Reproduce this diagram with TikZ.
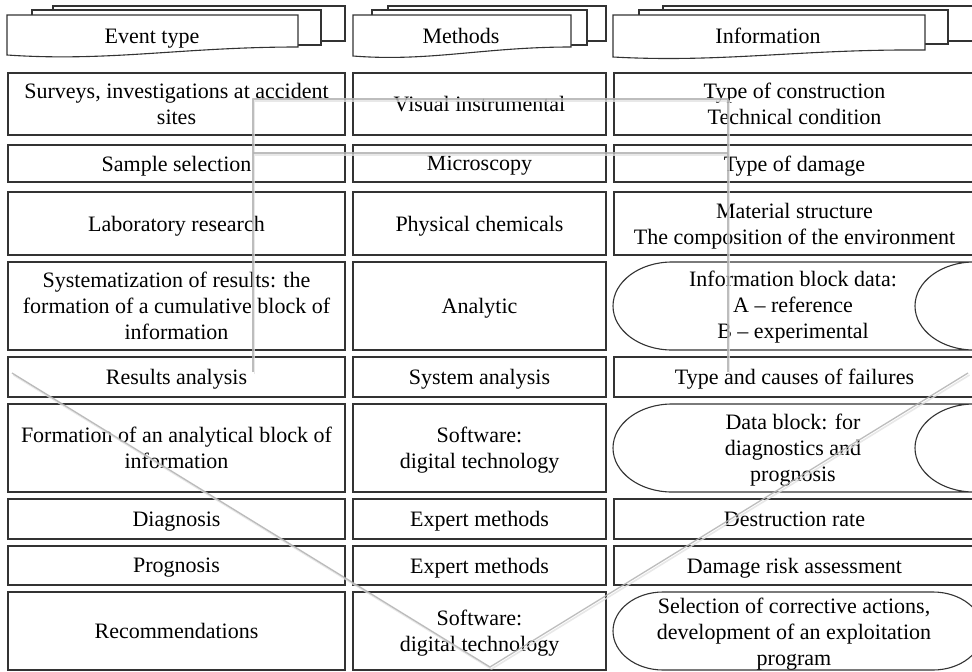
\documentclass[tikz,border=0pt]{standalone}
\usepackage{fontspec}
\setmainfont{Liberation Serif}
\newfontfamily\tnrfont[Ligatures=TeX]{Liberation Serif}
% \bx{name}{width}{x}{y}{height}{text}
\newcommand{\bx}[6]{%
  \node[box,minimum width=#2pt,minimum height=#5pt] (#1) at (#3,#4) {};
  \node[txt] (#1t) at ({#3},{#4+2.5}) {#6};}
\begin{document}
\begin{tikzpicture}[x=1pt,y=-1pt,
  fnt/.style={font=\tnrfont\fontsize{22}{26}\selectfont},
  box/.style={draw=black!80, line width=1.2pt, fill=white, inner sep=0pt},
  txt/.style={align=center, inner sep=0pt, text depth=5pt, fnt},
  shp/.style={draw=black!80, line width=1.1pt, fill=white},
  bgline/.style={gray!60, line width=1.3pt, opacity=0.85, line join=round},
  bgshadow/.style={gray!22, line width=1.6pt, opacity=0.8, line join=round}]
\useasboundingbox (0,0) rectangle (972,672);
\fill[white] (0,0) rectangle (972,672);

% ---- header multidocuments
\draw[shp] (53,6) rectangle (345,41);
\draw[shp] (32,10) rectangle (321,45);
\draw[shp] (7,15) -- (298,15) -- (298,47) .. controls (182,47) and (109,62) .. (7,55) -- cycle;
\node[txt] (h1) at (152,38.5) {Event type};

\draw[shp] (388,6) rectangle (606,41);
\draw[shp] (372,10) rectangle (587,45);
\draw[shp] (353,15) -- (571,15) -- (571,47) .. controls (484,47) and (429,62) .. (353,56) -- cycle;
\node[txt] (h2) at (461,38.5) {Methods};

\draw[shp] (663,6) rectangle (990,41);
\draw[shp] (639,10) rectangle (948,44);
\draw[shp] (613,15) -- (925,15) -- (925,50) .. controls (800,49) and (722,63) .. (613,57) -- cycle;
\node[txt] (h3) at (768,38.5) {Information};

% ---- column 1
\bx{e1}{337}{176.5}{104}{62}{Surveys, investigations at accident\\sites}
\bx{e2}{337}{176.5}{163.5}{37}{Sample selection}
\bx{e3}{337}{176.5}{223.5}{63}{Laboratory research}
\bx{e4}{337}{176.5}{306}{88}{Systematization of results: the\\formation of a cumulative block of\\information}
\bx{e5}{337}{176.5}{377}{40}{Results analysis}
\bx{e6}{337}{176.5}{448}{88}{Formation of an analytical block of\\information}
\bx{e7}{337}{176.5}{519}{40}{Diagnosis}
\bx{e8}{337}{176.5}{565.5}{39}{Prognosis}
\bx{e9}{337}{176.5}{631}{78}{Recommendations}

% ---- column 2
\bx{m1}{253}{479.5}{104}{62}{Visual instrumental}
\bx{m2}{253}{479.5}{163.5}{37}{Microscopy}
\bx{m3}{253}{479.5}{223.5}{63}{Physical chemicals}
\bx{m4}{253}{479.5}{306}{88}{Analytic}
\bx{m5}{253}{479.5}{377}{40}{System analysis}
\bx{m6}{253}{479.5}{448}{88}{Software:\\digital technology}
\bx{m7}{253}{479.5}{519}{40}{Expert methods}
\bx{m8}{253}{479.5}{565.5}{39}{Expert methods}
\bx{m9}{253}{479.5}{631}{78}{Software:\\digital technology}

% ---- column 3
\bx{i1}{361}{794.5}{104}{62}{Type of construction\\Technical condition}
\bx{i2}{361}{794.5}{163.5}{37}{Type of damage}
\bx{i3}{361}{794.5}{223.5}{63}{Material structure\\The composition of the environment}
\draw[shp] (672,262) -- (974,262) .. controls (941.4,262) and (915,281.7) .. (915,306)
  .. controls (915,330.3) and (941.4,350) .. (974,350) -- (672,350)
  .. controls (639.4,350) and (613,330.3) .. (613,306)
  .. controls (613,281.7) and (639.4,262) .. (672,262) -- cycle;
\node[txt] (i4) at (793,307.5) {Information block data:\\A – reference\\B – experimental};
\bx{i5}{361}{794.5}{377}{40}{Type and causes of failures}
\draw[shp] (672,404) -- (974,404) .. controls (941.4,404) and (915,423.7) .. (915,448)
  .. controls (915,472.3) and (941.4,492) .. (974,492) -- (672,492)
  .. controls (639.4,492) and (613,472.3) .. (613,448)
  .. controls (613,423.7) and (639.4,404) .. (672,404) -- cycle;
\node[txt] (i6) at (793,450) {Data block: for\\diagnostics and\\prognosis};
\bx{i7}{361}{794.5}{519}{40}{Destruction rate}
\bx{i8}{361}{794.5}{565.5}{39}{Damage risk assessment}
\draw[shp] (663,592) -- (933,592) .. controls (960.6,592) and (983,609.5) .. (983,631)
  .. controls (983,652.5) and (960.6,670) .. (933,670) -- (663,670)
  .. controls (635.4,670) and (613,652.5) .. (613,631)
  .. controls (613,609.5) and (635.4,592) .. (663,592) -- cycle;
\node[txt] (i9) at (794,634) {Selection of corrective actions,\\development of an exploitation\\program};

% ---- background block arrow (outline)
\begin{scope}[shift={(1.5,2)}]
\draw[bgshadow] (253,372) -- (253,99) -- (728,99) -- (728,372);
\draw[bgshadow] (253,153) -- (728,153);
\draw[bgshadow] (12,373) -- (490,667) -- (968,373);
\end{scope}
\draw[bgline] (253,372) -- (253,99) -- (728,99) -- (728,372);
\draw[bgline] (253,153) -- (728,153);
\draw[bgline] (12,373) -- (490,667) -- (968,373);
\end{tikzpicture}
\end{document}
